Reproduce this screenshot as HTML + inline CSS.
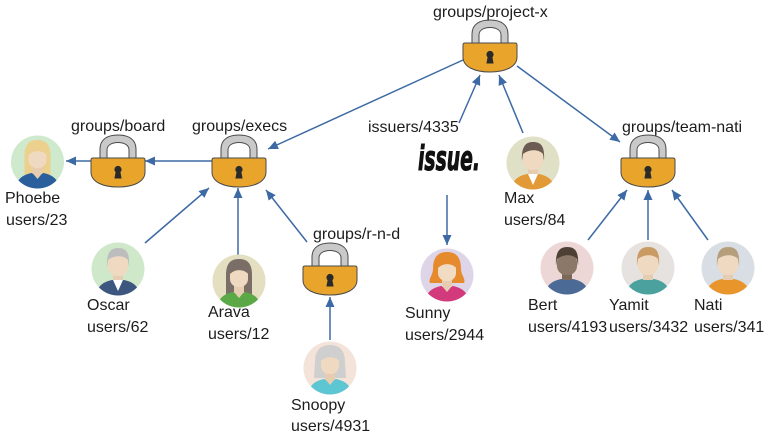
<!DOCTYPE html>
<html><head><meta charset="utf-8"><style>
html,body{margin:0;padding:0;background:#fff;}
svg{display:block;}
text{font-family:"Liberation Sans",Arial,sans-serif;font-size:16px;fill:#1c1c1c;}
</style></head><body>
<svg width="784" height="439" viewBox="0 0 784 439" xmlns="http://www.w3.org/2000/svg">
<defs>
<marker id="ah" markerWidth="11" markerHeight="10" refX="10" refY="4.5" orient="auto" markerUnits="userSpaceOnUse">
<path d="M0,0 L10,4.5 L0,9 Z" fill="#3d6aa4"/>
</marker>
<clipPath id="c"><circle cx="0" cy="0" r="26.5"/></clipPath>
<g id="lock">
<path d="M9,1 V-9 C9,-19 17,-23 27,-23 C37,-23 45,-19 45,-9 V1 H38 V-8 C38,-13 33,-15.5 27,-15.5 C21,-15.5 16,-13 16,-8 V1 Z" fill="#c9c9c9" stroke="#4a4a4a" stroke-width="1"/>
<path d="M2,0 H52 C53.5,0 54,0.5 54,2 V14 C54,24 42,29 27,29 C12,29 0,24 0,14 V2 C0,0.5 0.5,0 2,0 Z" fill="#e9a52b" stroke="#4a4a4a" stroke-width="1"/>
<circle cx="27" cy="11.5" r="3.6" fill="#2a2a2a"/>
<path d="M25,12 L23.4,20.5 H30.6 L29,12 Z" fill="#2a2a2a"/>
</g>
</defs>

<!-- connectors -->
<g stroke="#3d6aa4" stroke-width="1.5" fill="none" marker-end="url(#ah)">
<line x1="463" y1="60" x2="268" y2="149"/>
<line x1="517" y1="66" x2="620" y2="142"/>
<line x1="459" y1="123" x2="480" y2="75"/>
<line x1="523" y1="133" x2="499" y2="75"/>
<line x1="212" y1="161" x2="145" y2="161"/>
<line x1="91" y1="161" x2="66" y2="161"/>
<line x1="145" y1="243" x2="209" y2="188"/>
<line x1="238" y1="255" x2="238" y2="188"/>
<line x1="307" y1="242" x2="266" y2="190"/>
<line x1="330" y1="340" x2="330" y2="297"/>
<line x1="447" y1="195" x2="447" y2="245"/>
<line x1="588" y1="240" x2="627" y2="190"/>
<line x1="648" y1="240" x2="648" y2="190"/>
<line x1="708" y1="240" x2="672" y2="190"/>
</g>

<!-- locks -->
<use href="#lock" x="463" y="43"/>
<use href="#lock" x="91" y="158"/>
<use href="#lock" x="212" y="158"/>
<use href="#lock" x="303" y="266"/>
<use href="#lock" x="621" y="158"/>

<!-- lock labels -->
<text x="433" y="17">groups/project-x</text>
<text x="71" y="131">groups/board</text>
<text x="192" y="131">groups/execs</text>
<text x="313" y="239">groups/r-n-d</text>
<text x="622" y="132">groups/team-nati</text>
<text x="368" y="132">issuers/4335</text>

<!-- issue logo -->
<text x="418" y="170" textLength="62" lengthAdjust="spacingAndGlyphs" style="font-family:'DejaVu Sans','Liberation Sans',sans-serif;font-size:34px;font-weight:bold;font-style:italic;fill:#111;stroke:#111;stroke-width:1;">issue.</text>

<!-- Phoebe -->
<g transform="translate(37.5,162)">
<circle r="26.5" fill="#cfe9cc"/>
<g clip-path="url(#c)">
<path d="M-13,13 L-13,-6 C-13,-19 -7,-22 0,-22 C7,-22 13,-19 13,-6 L13,13 Z" fill="#ecd08e"/>
<path d="M-22,30 C-22,17 -15,13 -6,11 L6,11 C15,13 22,17 22,30 Z" fill="#2b5f9c"/>
<rect x="-5" y="3" width="10" height="9" fill="#e6cdb2"/>
<path d="M-5,11 L0,17 L5,11 Z" fill="#e6cdb2"/>
<rect x="-9" y="-15" width="18" height="21" rx="8" fill="#efd9c0"/>
<path d="M-10,-6 C-10,-17 -5,-19 0,-19 C6,-19 10,-16 10,-6 C6,-12 -4,-13 -10,-6 Z" fill="#ecd08e"/>
</g></g>

<!-- Oscar -->
<g transform="translate(118,269)">
<circle r="26.5" fill="#cfe8c9"/>
<g clip-path="url(#c)">
<path d="M-22,30 C-22,17 -15,13 -6,11 L6,11 C15,13 22,17 22,30 Z" fill="#3d5680"/>
<path d="M-5,11 L0,22 L5,11 Z" fill="#ffffff"/>
<rect x="-5" y="3" width="10" height="8" fill="#e6cdb2"/>
<rect x="-10" y="-15" width="20" height="22" rx="9" fill="#efd9c0"/>
<path d="M-11,-2 C-12,-18 -6,-21 0,-21 C8,-21 12,-17 11,-2 L10,-9 C6,-14 -4,-14 -10,-9 Z" fill="#bdbdbd"/>
</g></g>

<!-- Arava -->
<g transform="translate(239,281)">
<circle r="26.5" fill="#e4dfc0"/>
<g clip-path="url(#c)">
<path d="M-13,14 L-13,-6 C-13,-19 -7,-22 0,-22 C7,-22 13,-19 13,-6 L13,14 Z" fill="#7a6e66"/>
<path d="M-22,30 C-22,17 -15,13 -6,11 L6,11 C15,13 22,17 22,30 Z" fill="#5aa846"/>
<path d="M-5,11 L0,17 L5,11 Z" fill="#e6cdb2"/>
<rect x="-5" y="3" width="10" height="9" fill="#e6cdb2"/>
<rect x="-9" y="-15" width="18" height="21" rx="8" fill="#efd9c0"/>
<path d="M-10,-6 C-10,-17 -5,-19 0,-19 C6,-19 10,-16 10,-6 C6,-12 -4,-13 -10,-6 Z" fill="#7a6e66"/>
</g></g>

<!-- Snoopy -->
<g transform="translate(330,368)">
<circle r="26.5" fill="#f3e3d8"/>
<g clip-path="url(#c)">
<path d="M-16,10 L-15,-6 C-15,-20 -7,-23 0,-23 C7,-23 15,-20 15,-6 L16,10 Z" fill="#cfcfcf"/>
<path d="M-22,30 C-22,17 -15,13 -6,11 L6,11 C15,13 22,17 22,30 Z" fill="#5cc6d2"/>
<path d="M-5,11 L0,17 L5,11 Z" fill="#e6cdb2"/>
<rect x="-5" y="3" width="10" height="9" fill="#e6cdb2"/>
<rect x="-9" y="-15" width="18" height="21" rx="8" fill="#efd9c0"/>
<path d="M-10,-6 C-10,-17 -5,-19 0,-19 C6,-19 10,-16 10,-6 C6,-12 -4,-13 -10,-6 Z" fill="#cfcfcf"/>
</g></g>

<!-- Sunny -->
<g transform="translate(447,275)">
<circle r="26.5" fill="#ded5e8"/>
<g clip-path="url(#c)">
<path d="M-17,8 C-19,4 -14,0 -14,-6 C-14,-20 -7,-23 0,-23 C7,-23 14,-20 14,-6 C14,0 19,4 17,8 Z" fill="#e68a2e"/>
<path d="M-22,30 C-22,17 -15,13 -6,11 L6,11 C15,13 22,17 22,30 Z" fill="#d23a7c"/>
<path d="M-5,11 L0,17 L5,11 Z" fill="#e6cdb2"/>
<rect x="-5" y="3" width="10" height="9" fill="#e6cdb2"/>
<rect x="-9" y="-15" width="18" height="21" rx="8" fill="#f1dcc3"/>
<path d="M-10,-6 C-10,-17 -5,-19 0,-19 C6,-19 10,-16 10,-6 C6,-12 -4,-13 -10,-6 Z" fill="#e68a2e"/>
</g></g>

<!-- Max -->
<g transform="translate(533,163)">
<circle r="26.5" fill="#dfe0c6"/>
<g clip-path="url(#c)">
<path d="M-22,30 C-22,17 -15,13 -6,11 L6,11 C15,13 22,17 22,30 Z" fill="#e29a36"/>
<path d="M-5,11 L0,22 L5,11 Z" fill="#ffffff"/>
<rect x="-5" y="3" width="10" height="8" fill="#e6cdb2"/>
<rect x="-10" y="-15" width="20" height="22" rx="9" fill="#efd9c0"/>
<path d="M-11,-2 C-12,-18 -6,-21 0,-21 C8,-21 12,-17 11,-2 L10,-9 C6,-14 -4,-14 -10,-9 Z" fill="#6b5b52"/>
</g></g>

<!-- Bert -->
<g transform="translate(567,268)">
<circle r="26.5" fill="#edd6d6"/>
<g clip-path="url(#c)">
<path d="M-22,30 C-22,17 -15,13 -6,11 L6,11 C15,13 22,17 22,30 Z" fill="#4b6b96"/>
<rect x="-5" y="3" width="10" height="9" fill="#7d695a"/>
<rect x="-10" y="-15" width="20" height="22" rx="9" fill="#8c7868"/>
<path d="M-11,-2 C-12,-18 -6,-21 0,-21 C8,-21 12,-17 11,-2 L10,-9 C6,-14 -4,-14 -10,-9 Z" fill="#4d4035"/>
</g></g>

<!-- Yamit -->
<g transform="translate(648,268)">
<circle r="26.5" fill="#e6e2e0"/>
<g clip-path="url(#c)">
<path d="M-22,30 C-22,17 -15,13 -6,11 L6,11 C15,13 22,17 22,30 Z" fill="#4aa19d"/>
<rect x="-5" y="3" width="10" height="9" fill="#e6cdb2"/>
<rect x="-10" y="-15" width="20" height="22" rx="9" fill="#efd9c0"/>
<path d="M-11,-2 C-12,-18 -6,-21 0,-21 C8,-21 12,-17 11,-2 L10,-9 C6,-14 -4,-14 -10,-9 Z" fill="#c99a62"/>
</g></g>

<!-- Nati -->
<g transform="translate(728,268)">
<circle r="26.5" fill="#d8dee3"/>
<g clip-path="url(#c)">
<path d="M-22,30 C-22,17 -15,13 -6,11 L6,11 C15,13 22,17 22,30 Z" fill="#e8962c"/>
<rect x="-5" y="3" width="10" height="9" fill="#e6cdb2"/>
<rect x="-10" y="-15" width="20" height="22" rx="9" fill="#efd9c0"/>
<path d="M-11,-2 C-12,-18 -6,-21 0,-21 C8,-21 12,-17 11,-2 L10,-9 C6,-14 -4,-14 -10,-9 Z" fill="#b49e7c"/>
</g></g>

<!-- user labels -->
<text x="5" y="203">Phoebe</text>
<text x="6" y="225">users/23</text>
<text x="87" y="310">Oscar</text>
<text x="87" y="332">users/62</text>
<text x="208" y="317">Arava</text>
<text x="208" y="339">users/12</text>
<text x="291" y="410">Snoopy</text>
<text x="291" y="431">users/4931</text>
<text x="405" y="318">Sunny</text>
<text x="405" y="340">users/2944</text>
<text x="504" y="203">Max</text>
<text x="504" y="225">users/84</text>
<text x="528" y="310">Bert</text>
<text x="528" y="332">users/4193</text>
<text x="609" y="310">Yamit</text>
<text x="609" y="332">users/3432</text>
<text x="694" y="310">Nati</text>
<text x="694" y="332">users/341</text>
</svg>
</body></html>
